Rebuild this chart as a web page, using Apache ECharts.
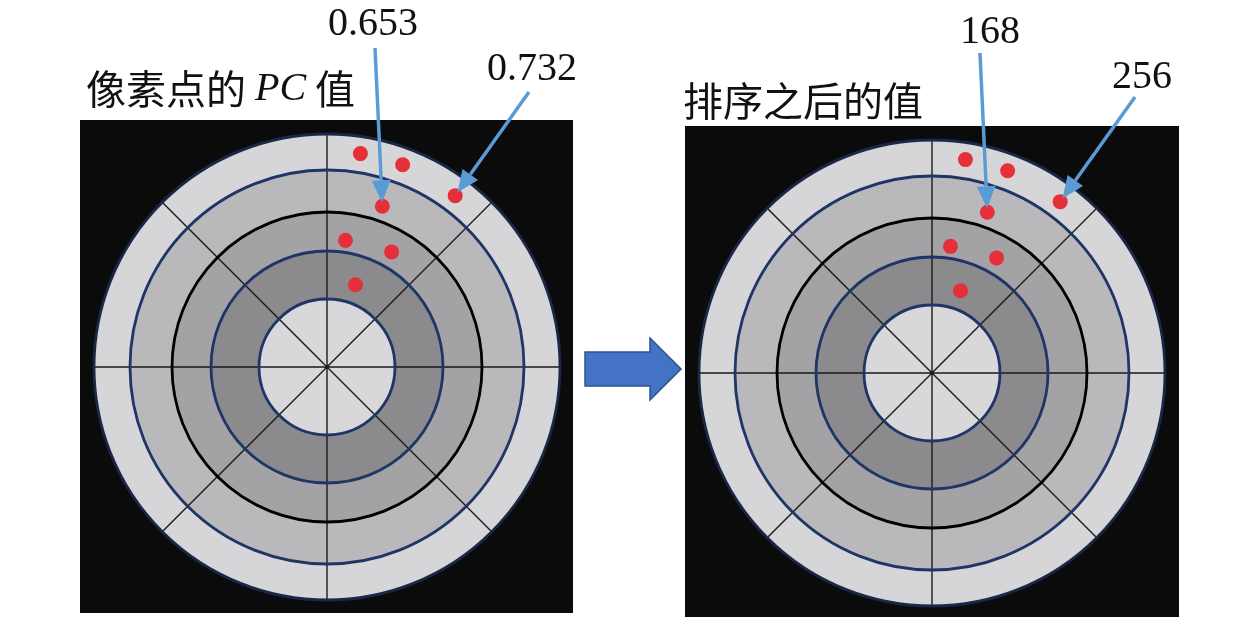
<!DOCTYPE html>
<html style="height: 100%">

<head>
  <meta charset="utf-8">
  <title>像素点的 PC 值 / 排序之后的值</title>
  <style type="text/css">
    body {
      margin: 0;
      background: #ffffff;
    }
  </style>
</head>

<body style="height: 100%; margin: 0;">
  <div id="container" style="width: 1259px; height: 620px"></div>

  <script type="text/javascript" src="https://cdn.jsdelivr.net/npm/echarts@6.0.0/dist/echarts.min.js"></script>

  <script type="text/javascript">
    // ring thickness from the centre outwards (same unit as the radius axis)
    var ringNames = ['中心', '内环', '中环', '次外环', '外环'];
    var ringWidths = [68, 48, 39, 42, 36];
    // boundary circles
    var circleRadii = [68, 116, 155, 197, 233];
    // red pixels: radius and angle (degrees, counter-clockwise, 0 = right)
    var dotRadius = [216, 216, 214, 170, 128, 132, 87];
    var dotAngle = [81.1, 69.5, 53.2, 71.0, 81.7, 60.7, 70.9];
    // notes on the two pictures, and the dot each one points at
    var leftNotes = ['0.653', '0.732'];
    var rightNotes = ['168', '256'];
    var noteDots = [3, 2];

    var ringColors = ['#d8d8da', '#8b8b8e', '#a3a3a6', '#b9b9bc', '#d6d6d8'];
    var circleColors = ['#1f3566', '#1f3566', '#000000', '#1f3566', '#1a2747'];

    var dom = document.getElementById('container');
    var chart = echarts.init(dom, null, { renderer: 'canvas' });

    var centers = [[327, 367], [932, 373]];
    var R = 233;

    var polar = [], angleAxis = [], radiusAxis = [], series = [];

    centers.forEach(function (c, p) {
      // polar 2p: ring fills ; polar 2p+1: grid lines and dots
      polar.push({ center: c, radius: R });
      polar.push({ center: c, radius: R });

      angleAxis.push({
        polarIndex: 2 * p, type: 'category', data: ['环'], show: false
      });
      radiusAxis.push({
        polarIndex: 2 * p, type: 'value', min: 0, max: R, show: false
      });

      angleAxis.push({
        polarIndex: 2 * p + 1, type: 'value', min: 0, max: 360, interval: 45,
        startAngle: 0, clockwise: false, z: 4,
        axisLine: { show: false }, axisTick: { show: false }, axisLabel: { show: false },
        splitLine: { show: true, lineStyle: { color: '#1a1a1a', width: 1.4 } }
      });
      radiusAxis.push({
        polarIndex: 2 * p + 1, type: 'value', min: 0, max: R, z: 5,
        axisLine: { show: false },
        axisTick: { show: false, customValues: circleRadii },
        axisLabel: { show: false, customValues: circleRadii },
        splitLine: { show: true, lineStyle: { color: circleColors, width: 2.8 } }
      });

      ringWidths.forEach(function (w, i) {
        series.push({
          name: ringNames[i],
          type: 'bar',
          coordinateSystem: 'polar',
          polarIndex: 2 * p,
          stack: 'ring' + p,
          barCategoryGap: '0%',
          silent: true,
          itemStyle: { color: ringColors[i] },
          data: [w]
        });
      });

      series.push({
        type: 'scatter',
        coordinateSystem: 'polar',
        polarIndex: 2 * p + 1,
        symbolSize: 15,
        z: 10,
        itemStyle: { color: '#e52f39', opacity: 1 },
        data: dotRadius.map(function (r, i) { return [r, dotAngle[i]]; })
      });
    });

    chart.setOption({
      animation: false,
      backgroundColor: '#ffffff',
      polar: polar,
      angleAxis: angleAxis,
      radiusAxis: radiusAxis,
      series: series
    });

    var blue = '#5b9bd5';

    function arrow(start, seriesIndex, dot) {
      var p = chart.convertToPixel({ seriesIndex: seriesIndex }, [dotRadius[dot], dotAngle[dot]]);
      var dx = p[0] - start[0], dy = p[1] - start[1];
      var len = Math.sqrt(dx * dx + dy * dy);
      var ux = dx / len, uy = dy / len;
      var tip = [p[0] - ux * 4, p[1] - uy * 4];
      var base = [tip[0] - ux * 22, tip[1] - uy * 22];
      var nx = -uy, ny = ux;
      return [
        {
          type: 'line', z: 100,
          shape: { x1: start[0], y1: start[1], x2: base[0], y2: base[1] },
          style: { stroke: blue, lineWidth: 3.5 }
        },
        {
          type: 'polygon', z: 100,
          shape: { points: [tip, [base[0] + nx * 9.5, base[1] + ny * 9.5], [base[0] - nx * 9.5, base[1] - ny * 9.5]] },
          style: { fill: blue }
        }
      ];
    }

    function note(text, x, y) {
      return {
        type: 'text', x: x, y: y, z: 100,
        style: {
          text: text, fill: '#111', font: '40px "Liberation Serif", "Times New Roman", serif',
          textAlign: 'center', textVerticalAlign: 'middle'
        }
      };
    }

    var graphic = [
      { type: 'rect', z: -10, shape: { x: 80, y: 120, width: 493, height: 493 }, style: { fill: '#0b0b0b' } },
      { type: 'rect', z: -10, shape: { x: 685, y: 126, width: 494, height: 491 }, style: { fill: '#0b0b0b' } },
      {
        type: 'polygon', z: 100,
        shape: { points: [[585, 352], [650, 352], [650, 338], [681, 369], [650, 400], [650, 386], [585, 386]] },
        style: { fill: '#4472c4', stroke: '#2f528f', lineWidth: 1.5 }
      },
      {
        type: 'text', x: 86, y: 89, z: 100,
        style: {
          text: '{a|像素点的 }{b|PC}{a| 值}',
          textVerticalAlign: 'middle',
          rich: {
            a: { fontFamily: 'Noto Sans CJK SC', fontSize: 40, fill: '#111' },
            b: { fontFamily: 'Liberation Serif', fontStyle: 'italic', fontSize: 40, fill: '#111' }
          }
        }
      },
      {
        type: 'text', x: 683, y: 101, z: 100,
        style: {
          text: '排序之后的值', fill: '#111', font: '40px "Noto Sans CJK SC"',
          textVerticalAlign: 'middle'
        }
      },
      note(leftNotes[0], 373, 24),
      note(leftNotes[1], 532, 69),
      note(rightNotes[0], 990, 32),
      note(rightNotes[1], 1142, 77)
    ];

    graphic = graphic
      .concat(arrow([375, 48], 5, noteDots[0]))
      .concat(arrow([529, 92], 5, noteDots[1]))
      .concat(arrow([980, 53], 11, noteDots[0]))
      .concat(arrow([1135, 97], 11, noteDots[1]));

    chart.setOption({ graphic: graphic });
  </script>
</body>

</html>
